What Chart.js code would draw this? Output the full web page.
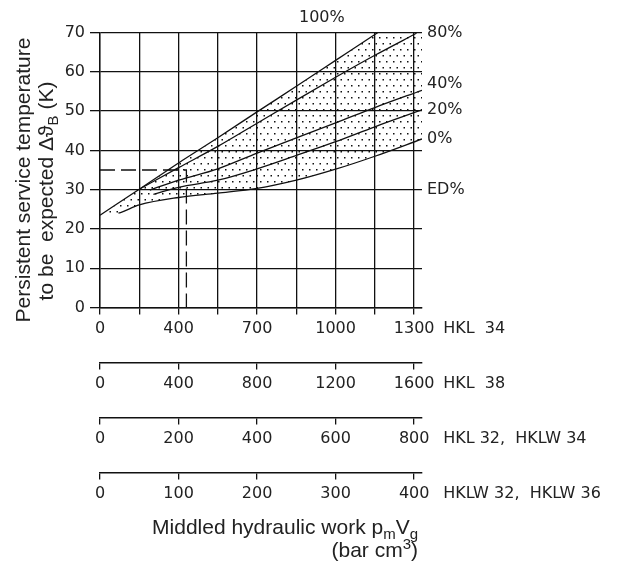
<!DOCTYPE html>
<html>
<head>
<meta charset="utf-8">
<script src="https://cdn.jsdelivr.net/npm/chart.js@4"></script>
<style>
  html, body { margin: 0; padding: 0; background: #fff; }
  canvas { display: block; }
</style>
</head>
<body>
<canvas id="chart" width="642" height="563"></canvas>
<script>
// x values are in HKL 38 units (bar cm3), the other axes are just relabelled
const X_MAX = 1640;
const gridTicks  = [0, 200, 400, 600, 800, 1000, 1200, 1400, 1600];
const labelTicks = [0, 400, 800, 1200, 1600];

const hkl34Labels  = ['0', '400', '700', '1000', '1300'];
const hkl38Labels  = ['0', '400', '800', '1200', '1600'];
const hkl32Labels  = ['0', '200', '400', '600', '800'];
const hklw32Labels = ['0', '100', '200', '300', '400'];
const axisNames = ['HKL  34', 'HKL  38', 'HKL 32,  HKLW 34', 'HKLW 32,  HKLW 36'];

const curveNames = ['100%', '80%', '40%', '20%', '0%'];
const x100 = [0, 200, 400, 600, 800, 1000, 1200, 1400, 1640];
const y100 = [23.5, 30.1, 36.8, 43.2, 49.8, 56.3, 62.9, 69.5, 77.4];
const x80  = [200, 400, 600, 800, 1000, 1200, 1400, 1612];
const y80  = [30.1, 35.6, 41.0, 46.9, 52.8, 58.6, 64.2, 69.8];
const x40  = [254, 400, 600, 800, 1000, 1200, 1400, 1640];
const y40  = [29.9, 32.4, 35.3, 39.3, 43.2, 47.0, 50.9, 55.3];
const x20  = [272, 400, 600, 800, 1000, 1200, 1400, 1640];
const y20  = [28.8, 30.6, 32.4, 35.3, 38.7, 42.2, 46.0, 50.3];
// first point only closes the shaded band, its segment is not stroked
const x0   = [0, 94, 200, 400, 600, 800, 1000, 1200, 1400, 1640];
const y0   = [23.5, 24.0, 26.1, 28.0, 29.1, 30.3, 32.4, 35.2, 38.5, 42.9];

const edLevel = 30;
const dashX = [0, 440, 440];
const dashY = [35, 35, 0];

const LINE = '#111';
const TEXT = '#222';
const TICK_FONT = { family: 'DejaVu Sans', size: 16 };
const TITLE_FAMILY = '"Liberation Sans", "DejaVu Sans", sans-serif';
const AXIS_H = 55;

function pts(xs, ys) { return xs.map((x, i) => ({ x: x, y: ys[i] })); }

function dotPattern() {
    const c = document.createElement('canvas');
    c.width = 7; c.height = 12;
    const g = c.getContext('2d');
    g.fillStyle = '#111';
    g.fillRect(1, 1, 1.5, 1.5);
    g.fillRect(4.5, 7, 1.5, 1.5);
    return g.createPattern(c, 'repeat');
}

function curve(label, data, extra) {
    return Object.assign({
        label: label,
        data: data,
        borderColor: LINE,
        borderWidth: 1.3,
        pointRadius: 0,
        fill: false,
        cubicInterpolationMode: 'monotone'
    }, extra || {});
}

function bottomAxis(labels, weight, main) {
    return {
        type: 'linear',
        position: 'bottom',
        min: 0,
        max: X_MAX,
        weight: weight,
        afterBuildTicks: s => { s.ticks = (main ? gridTicks : labelTicks).map(v => ({ value: v })); },
        afterFit: s => { s.height = AXIS_H; },
        grid: { drawOnChartArea: main, color: LINE, lineWidth: 1.3, tickLength: 7 },
        border: { display: true, color: LINE, width: 1.4 },
        ticks: {
            autoSkip: false,
            maxRotation: 0,
            padding: 5,
            color: TEXT,
            font: TICK_FONT,
            callback: (v, i) => main ? (i % 2 === 0 ? labels[i / 2] : '') : labels[i]
        }
    };
}

function drawRuns(ctx, runs, x, y, align) {
    const fonts = ['21px ' + TITLE_FAMILY, '15px ' + TITLE_FAMILY, '15px ' + TITLE_FAMILY];
    const shift = [0, 5, -8];
    const widths = runs.map(r => { ctx.font = fonts[r[1]]; return ctx.measureText(r[0]).width; });
    const total = widths.reduce((a, b) => a + b, 0);
    let cx = align === 'right' ? x - total : (align === 'center' ? x - total / 2 : x);
    ctx.textAlign = 'left';
    ctx.textBaseline = 'alphabetic';
    runs.forEach((r, i) => {
        ctx.font = fonts[r[1]];
        ctx.fillText(r[0], cx, y + shift[r[1]]);
        cx += widths[i];
    });
}

const textPlugin = {
    id: 'texts',
    afterDraw(chart) {
        const { ctx, chartArea: ca, scales } = chart;
        const xs = scales.x, ys = scales.y;
        ctx.save();
        ctx.fillStyle = TEXT;
        ctx.font = TICK_FONT.size + 'px ' + TICK_FONT.family;
        ctx.textBaseline = 'middle';

        // curve labels on the right, 100% sits above the frame
        const nudge = { '40%': -6 };
        chart.data.datasets.forEach(ds => {
            if (!curveNames.includes(ds.label)) return;
            ctx.textAlign = 'left';
            if (ds.label === '100%') {
                ctx.textAlign = 'center';
                ctx.fillText(ds.label, xs.getPixelForValue(1130), ca.top - 15);
                return;
            }
            const last = ds.data[ds.data.length - 1];
            ctx.fillText(ds.label, ca.right + 5, ys.getPixelForValue(last.y) + (nudge[ds.label] || 0));
        });
        ctx.textAlign = 'left';
        ctx.fillText('ED%', ca.right + 5, ys.getPixelForValue(edLevel));

        // names of the four x axes
        ['x', 'x2', 'x3', 'x4'].forEach((id, i) => {
            const s = scales[id];
            ctx.fillText(axisNames[i], xs.getPixelForValue(1600) + 29, s.top + 21.5);
        });

        // axis titles
        drawRuns(ctx, [['Middled hydraulic work p', 0], ['m', 1], ['V', 0], ['g', 1]], 418, 534, 'right');
        drawRuns(ctx, [['(bar cm', 0], ['3', 2], [')', 0]], 418, 557, 'right');

        ctx.save();
        ctx.translate(29.5, 180);
        ctx.rotate(-Math.PI / 2);
        drawRuns(ctx, [['Persistent service temperature', 0]], 0, 0, 'center');
        ctx.restore();
        ctx.save();
        ctx.translate(53, 191);
        ctx.rotate(-Math.PI / 2);
        drawRuns(ctx, [['to be  expected \u0394\u03D1', 0], ['B', 1], [' (K)', 0]], 0, 0, 'center');
        ctx.restore();

        ctx.restore();
    }
};

new Chart(document.getElementById('chart'), {
    type: 'line',
    data: {
        datasets: [
            curve(curveNames[0], pts(x100, y100), { fill: 4, backgroundColor: dotPattern() }),
            curve(curveNames[1], pts(x80, y80)),
            curve(curveNames[2], pts(x40, y40)),
            curve(curveNames[3], pts(x20, y20)),
            curve(curveNames[4], pts(x0, y0), {
                segment: { borderColor: c => c.p0DataIndex === 0 ? 'rgba(0,0,0,0)' : undefined }
            }),
            {
                label: 'example',
                data: pts(dashX, dashY),
                borderColor: LINE,
                borderWidth: 1.3,
                borderDash: [15, 6],
                pointRadius: 0,
                fill: false,
                tension: 0
            }
        ]
    },
    options: {
        responsive: false,
        animation: false,
        devicePixelRatio: 1,
        layout: { padding: { left: 50, right: 220, top: 32.5, bottom: 35.5 } },
        plugins: {
            legend: { display: false },
            tooltip: { enabled: false },
            filler: { drawTime: 'beforeDatasetsDraw' }
        },
        scales: {
            x: bottomAxis(hkl34Labels, 0, true),
            x2: bottomAxis(hkl38Labels, 1, false),
            x3: bottomAxis(hkl32Labels, 2, false),
            x4: bottomAxis(hklw32Labels, 3, false),
            y: {
                type: 'linear',
                min: 0,
                max: 70,
                afterFit: s => { s.width = 50; },
                grid: { color: LINE, lineWidth: 1.3, tickLength: 10 },
                border: { display: true, color: LINE, width: 1.4 },
                ticks: { stepSize: 10, padding: 5, color: TEXT, font: TICK_FONT }
            }
        }
    },
    plugins: [textPlugin]
});
</script>
</body>
</html>
